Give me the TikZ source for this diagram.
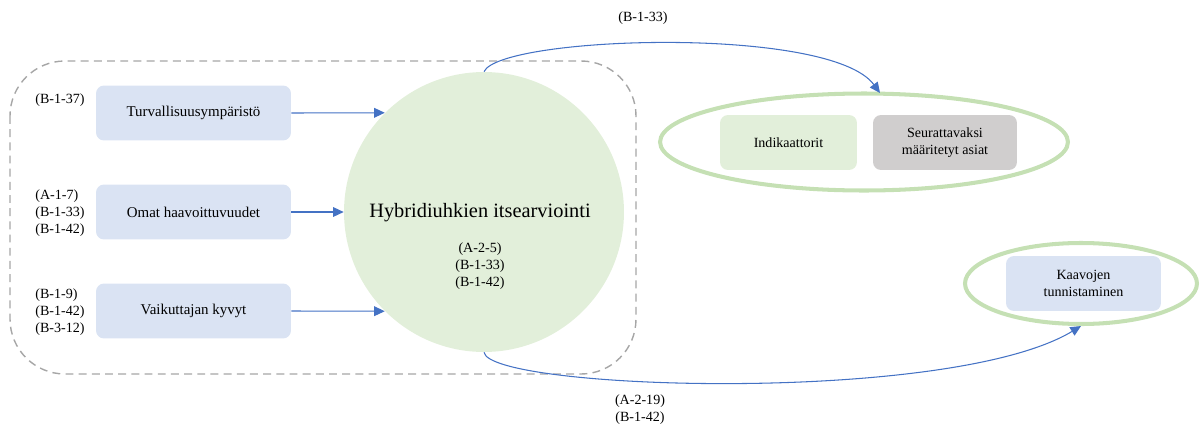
\documentclass[tikz,border=0pt]{standalone}
\usepackage{fontspec}
\setmainfont{Liberation Serif}
\usetikzlibrary{arrows.meta,shapes.geometric}
\definecolor{boxblue}{HTML}{DAE3F3}
\definecolor{lgreen}{HTML}{E2EFDA}
\definecolor{egreen}{HTML}{C5E0B4}
\definecolor{gbox}{HTML}{D0CECE}
\definecolor{arrblue}{HTML}{4472C4}
\definecolor{dashgray}{HTML}{A6A6A6}
\begin{document}
\begin{tikzpicture}[x=0.02cm,y=-0.02cm,
  txt/.style={font=\fontsize{8}{9.6}\selectfont, align=center, inner sep=0pt},
  ref/.style={font=\fontsize{8}{9.6}\selectfont, align=left, inner sep=0pt, anchor=west},
  bbox/.style={draw=none, fill=boxblue, rounded corners=0.16cm, minimum width=3.9cm, minimum height=1.1cm, txt},
  lbox/.style={bbox, font=\fontsize{8.5}{10}\selectfont},
  inbox/.style={draw=none, rounded corners=0.16cm, minimum height=1.1cm, txt},
  conn/.style={draw=arrblue, line width=0.6pt, -{Triangle[length=6pt,width=5.5pt]}},
  ring/.style={draw=egreen, line width=2.3pt, ellipse, fill=none, inner sep=0pt}
]
\useasboundingbox (0,0) rectangle (1201,423);
% dashed group
\draw[dashgray, line width=0.8pt, dash pattern=on 4.5pt off 3pt, rounded corners=1.1cm] (10,61) rectangle (636,374);
% circle
\node[circle, fill=lgreen, minimum size=5.6cm, inner sep=0pt] (hyb) at (484,212) {};
\node[font=\fontsize{11.6}{13}\selectfont, inner sep=0pt] (hybt) at (480,213) {Hybridiuhkien itsearviointi};
\node[txt] (hybr) at (480,266) {(A-2-5)\\(B-1-33)\\(B-1-42)};
% left boxes
\node[lbox] (t1) at (193.5,113) {Turvallisuusympäristö};
\node[lbox] (t2) at (193.5,212) {Omat haavoittuvuudet};
\node[lbox] (t3) at (193.5,311) {Vaikuttajan kyvyt};
\node[ref] (r1) at (35,100) {(B-1-37)};
\node[ref] (r2) at (35,213) {(A-1-7)\\(B-1-33)\\(B-1-42)};
\node[ref] (r3) at (35,312) {(B-1-9)\\(B-1-42)\\(B-3-12)};
\draw[conn] (t1.east) -- (hyb.135);
\draw[conn] (t2.east) -- (hyb.west);
\draw[conn] (t3.east) -- (hyb.225);
% right ellipse 1
\node[ring, minimum width=8.16cm, minimum height=1.94cm] (e1) at (864,142) {};
\node[inbox, fill=lgreen, minimum width=2.74cm] (ind) at (788.5,142.5) {Indikaattorit};
\node[inbox, fill=gbox, minimum width=2.88cm] (seu) at (945,142.5) {Seurattavaksi\\määritetyt asiat};
% right ellipse 2
\node[ring, minimum width=4.64cm, minimum height=1.62cm] (e2) at (1081,283.5) {};
\node[bbox, minimum width=3.1cm] (kaa) at (1083.5,283.5) {Kaavojen\\tunnistaminen};
% curved connectors
\coordinate (e1in) at (880,93);
\draw[conn] (hyb.north) .. controls (500,36) and (830,25) .. (e1in);
\draw[conn] (hyb.south) .. controls (490,390) and (950,405) .. (e2.south);
\node[txt] (lb1) at (643,18) {(B-1-33)};
\node[txt] (lb2) at (640,410) {(A-2-19)\\(B-1-42)};
\end{tikzpicture}
\end{document}
